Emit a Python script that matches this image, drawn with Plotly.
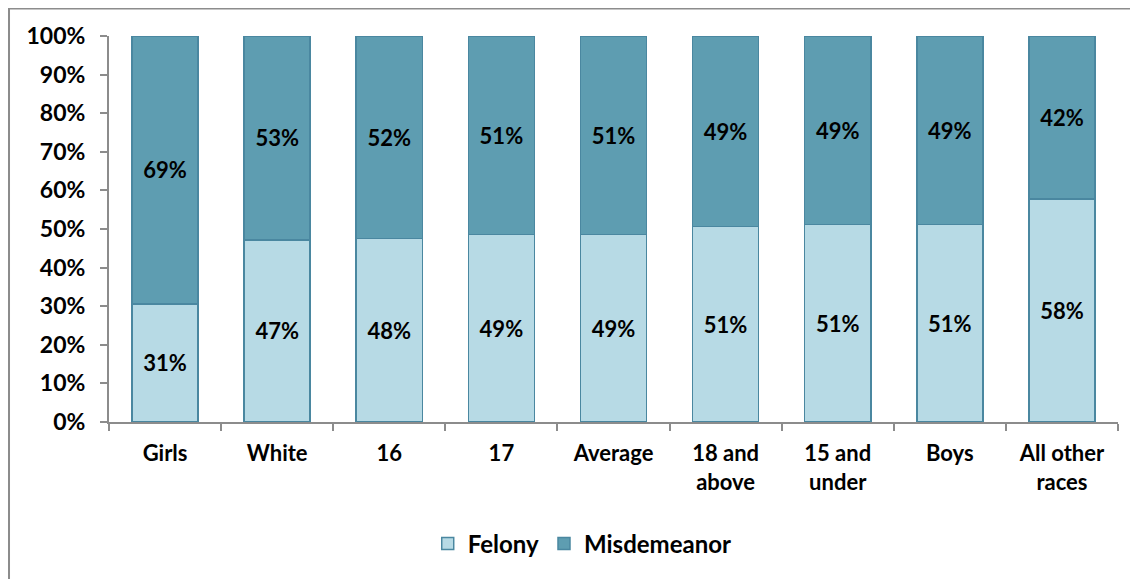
import plotly.graph_objects as go

categories = ["Girls", "White", "16", "17", "Average", "18 and<br>above",
              "15 and<br>under", "Boys", "All other<br>races"]
felony = [30.6, 47.2, 47.6, 48.6, 48.6, 50.6, 51.2, 51.2, 57.8]
misdemeanor = [69.4, 52.8, 52.4, 51.4, 51.4, 49.4, 48.8, 48.8, 42.2]

FONT = "Lato"
light = "#B7DAE5"
dark = "#5E9DB1"
edge = "#4A87A0"

fig = go.Figure()
fig.add_trace(go.Bar(x=categories, y=felony, name="Felony",
                     marker=dict(color=light, line=dict(color=edge, width=1.5)),
                     texttemplate="%{y:.0f}%", textposition="inside",
                     insidetextanchor="middle",
                     textfont=dict(family=FONT, size=22, color="black", weight="bold")))
fig.add_trace(go.Bar(x=categories, y=misdemeanor, name="Misdemeanor",
                     marker=dict(color=dark, line=dict(color=edge, width=1.5)),
                     texttemplate="%{y:.0f}%", textposition="inside",
                     insidetextanchor="middle",
                     textfont=dict(family=FONT, size=22, color="black", weight="bold")))

fig.update_layout(
    barmode="stack", bargap=0.41,
    width=1138, height=579,
    margin=dict(l=101, r=28, t=28, b=165),
    plot_bgcolor="white", paper_bgcolor="white",
    font=dict(family=FONT, size=22, color="black", weight="bold"),
    showlegend=True,
    legend=dict(orientation="h", x=0.469, xanchor="center", y=-0.316, yanchor="middle",
                font=dict(family=FONT, size=24, weight="bold"), traceorder="normal"),
    uniformtext=dict(mode="show", minsize=20),
)
fig.update_xaxes(showline=True, linecolor="#8C8C8C", linewidth=2,
                 ticks="outside", tickson="boundaries", ticklen=7,
                 tickcolor="#8C8C8C", tickwidth=1.5, showgrid=False,
                 ticklabelstandoff=11)
fig.update_yaxes(range=[0, 100], dtick=10, ticksuffix="%",
                 showline=True, linecolor="#8C8C8C", linewidth=2,
                 ticks="outside", ticklen=7, tickcolor="#8C8C8C", tickwidth=1.5,
                 showgrid=False, zeroline=False, ticklabelstandoff=10,
                 tickfont=dict(size=23))

# outer chart frame
fig.add_shape(type="rect", xref="paper", yref="paper",
              x0=-0.0991, x1=1.1, y0=-0.6, y1=1.0712,
              line=dict(color="#8C8C8C", width=2), layer="below")

fig.write_html("out.html")
